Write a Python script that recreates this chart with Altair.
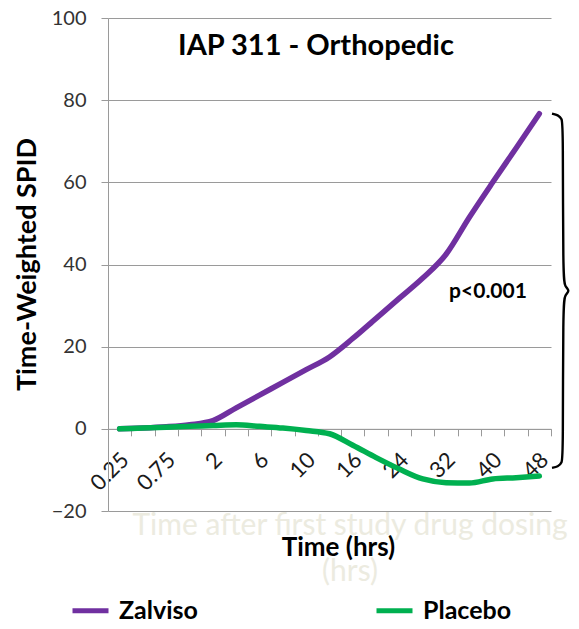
import json
import altair as alt
import pandas as pd

# ---------------- data ----------------
times = ["0.25", "0.5", "0.75", "1", "2", "4", "6", "8", "10", "12",
         "16", "20", "24", "28", "32", "36", "40", "44", "48"]
shown_labels = ["0.25", "0.75", "2", "6", "10", "16", "24", "32", "40", "48"]
zalviso = [0, 0.2, 0.5, 1.0, 2.0, 5.1, 8.2, 11.3, 14.4, 17.5,
           22.0, 26.9, 31.8, 36.7, 42.5, 51.5, 60.0, 68.3, 76.7]
placebo = [0, 0.2, 0.4, 0.6, 0.8, 1.0, 0.6, 0.2, -0.4, -1.2,
           -4.0, -7.0, -9.8, -12.2, -13.1, -13.2, -12.2, -11.9, -11.5]
series = ["Zalviso", "Placebo"]
colors = ["#7030A0", "#00B050"]
y_ticks = [-20, 0, 20, 40, 60, 80, 100]
title_text = "IAP 311 - Orthopedic"
p_text = "p<0.001"
ghost_text = ["Time after first study drug dosing", "(hrs)"]

# ---------------- layout ----------------
W, H = 443, 493
Y_MIN, Y_MAX = -20, 100
zero_px = H * (Y_MAX - 0) / (Y_MAX - Y_MIN)
x_axis_offset = -(H - zero_px)
FONT = "Lato"
GRID = "#9a9a9a"

n = len(times)
df = pd.DataFrame({
    "time": times * 2,
    "value": zalviso + placebo,
    "series": [series[0]] * n + [series[1]] * n,
    "idx": list(range(n)) * 2,
})

label_expr = f"indexof({json.dumps(shown_labels)}, datum.value) >= 0 ? datum.label : ''"

y_scale = alt.Scale(domain=[Y_MIN, Y_MAX], nice=False, zero=False)
y_axis = alt.Axis(values=y_ticks, title="Time-Weighted SPID", grid=True, gridColor=GRID,
                  tickSize=7, tickColor=GRID, domainColor=GRID,
                  labelFontSize=20, labelPadding=15, labelColor="#333333",
                  titleFontSize=27, titleFontWeight="bold", titleColor="#000000",
                  titleX=-81, titleY=246, titleBaseline="middle", titleAlign="center",
                  titleAngle=-90)

lines = alt.Chart(df).mark_line(strokeWidth=5.5, interpolate="monotone", strokeCap="round").encode(
    x=alt.X("time:N", sort=times,
            scale=alt.Scale(type="band", paddingInner=0, paddingOuter=0),
            axis=alt.Axis(title="Time (hrs)", offset=x_axis_offset, tickBand="extent",
                          labelAngle=-45, labelAlign="right", labelBaseline="top",
                          labelExpr=label_expr, labelOverlap=False, labelFlush=False,
                          labelFontSize=22, labelPadding=13, labelOffset=-2, labelColor="#1a1a1a",
                          tickSize=7, tickColor=GRID, domainColor=GRID, grid=False,
                          titleFontSize=26, titleFontWeight="bold", titleColor="#000000",
                          titleX=230, titleY=119, titleBaseline="middle", titleAlign="center")),
    y=alt.Y("value:Q", scale=y_scale, axis=y_axis),
    color=alt.Color("series:N", scale=alt.Scale(domain=series, range=colors),
                    legend=alt.Legend(orient="none", legendX=-38, legendY=572, direction="horizontal",
                                      title=None, symbolType="stroke", symbolStrokeWidth=5,
                                      symbolSize=1296, labelFontSize=25, labelFontWeight="bold",
                                      labelColor="#000000", labelOffset=8, columnPadding=168,
                                      padding=0)),
    order=alt.Order("idx:Q"),
)

# curly brace built from the last values of the two series
top = zalviso[-1]
bot = placebo[-1] + 2.0
mid = (top + bot) / 2
bx = [W + 1, W + 7, W + 11, W + 12, W + 12, W + 14, W + 19, W + 14, W + 12, W + 12, W + 11, W + 7, W + 1]
by = [top, top - 0.3, top - 1.2, top - 3.0, mid + 3.0, mid + 1.0, mid, mid - 1.0, mid - 3.0,
      bot + 3.0, bot + 1.2, bot + 0.3, bot]
brace_df = pd.DataFrame({"bx": bx, "value": by, "k": list(range(len(bx)))})

brace = alt.Chart(brace_df).mark_line(color="#000000", strokeWidth=2.4, interpolate="basis").encode(
    x=alt.X("bx:Q", scale=alt.Scale(domain=[0, W], nice=False, zero=False), axis=None),
    y=alt.Y("value:Q", scale=y_scale, axis=y_axis),
    order=alt.Order("k:Q"),
)

title_mark = alt.Chart(pd.DataFrame({"t": [title_text]})).mark_text(
    fontSize=29, fontWeight="bold", color="#000000", baseline="middle", align="center"
).encode(text="t:N", x=alt.value(208), y=alt.value(28))

p_mark = alt.Chart(pd.DataFrame({"t": [p_text]})).mark_text(
    fontSize=21, fontWeight="bold", color="#000000", baseline="middle", align="center"
).encode(text="t:N", x=alt.value(380), y=alt.value(274))

ghost_mark = alt.Chart(pd.DataFrame({"t": ["\n".join(ghost_text)]})).mark_text(
    fontSize=30, color="#ecebe0", baseline="alphabetic", align="center", lineBreak="\n", lineHeight=46
).encode(text="t:N", x=alt.value(242), y=alt.value(517))

chart = alt.layer(ghost_mark, lines, brace, title_mark, p_mark).resolve_scale(
    x="independent"
).properties(
    width=W, height=H,
    padding={"left": 100, "top": 10, "right": 20, "bottom": 110},
    autosize=alt.AutoSizeParams(type="none"),
).configure(font=FONT).configure_view(stroke=None)

chart.save("out.html", embed_options={"renderer": "svg", "actions": False})
